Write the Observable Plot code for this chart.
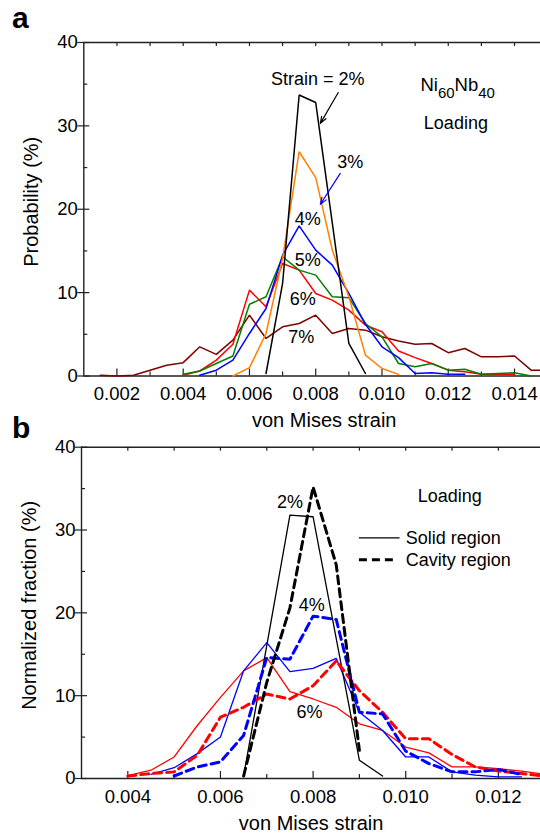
<!DOCTYPE html>
<html><head><meta charset="utf-8">
<script src="https://cdn.jsdelivr.net/npm/d3@7"></script>
<script src="https://cdn.jsdelivr.net/npm/@observablehq/plot@0.6"></script>
<style>
body{margin:0;background:#fff;}
#wrap{position:relative;width:540px;height:833px;overflow:hidden;font-family:"Liberation Sans",Arial,sans-serif;background:#fff;}
.panel{position:absolute;left:0;}
.tag{position:absolute;font-weight:bold;font-size:30px;line-height:30px;color:#000;}
</style></head><body>
<div id="wrap">
  <div id="pa" class="panel" style="top:0px"></div>
  <div id="pb" class="panel" style="top:415px"></div>
  <div class="tag" style="left:12px;top:3px">a</div>
  <div class="tag" style="left:12px;top:413px">b</div>
</div>
<script>
// ---------- Panel a data (von Mises strain vs probability %) ----------
const gridA = [0.0015, 0.002, 0.0025, 0.003, 0.0035, 0.004, 0.0045, 0.005, 0.0055, 0.006,
               0.0065, 0.007, 0.0075, 0.008, 0.0085, 0.009, 0.0095, 0.010, 0.0105, 0.011,
               0.0115, 0.012, 0.0125, 0.013, 0.0135, 0.014, 0.0145, 0.015];
const strainsA = ["2%", "3%", "4%", "5%", "6%", "7%"];
const colorsA = ["#000000", "#ff8000", "#0000ff", "#008000", "#ff0000", "#800000"];
const prob2 = [null,null,null,null,null,null,null,null,null,null,
               0.3, 11.1, 33.7, 32.8, null, 3.9, 0.3, null,null,null,
               null,null,null,null,null,null,null,null];
const prob3 = [null,null,null,null,null,null,null,null,
               0, 1.0, 5.1, 14.1, 26.9, 23.8, 15.1, 9.5, 2.5, 0.9, 0.2,
               null,null,null,null,null,null,null,null,null];
const prob4 = [null,null,null,null,null,null,
               0.1, 0.7, 1.9, 5.1, 8.1, 14.5, 18.0, 15.1, 13.3, 9.9, 6.2, 3.5, 2.2, 0.3, 0.4, 0.2, 0.2,
               null,null,null,null,null];
const prob5 = [null,null,null,null,null,
               0.2, 0.6, 1.5, 2.4, 8.6, 9.5, 14.3, 12.7, 12.1, 9.5, 9.4, 6.3, 4.7, 1.5, 1.1, 1.5, 0.7, 0.8, 0.2, 0.3, 0.4, 0,
               null];
const prob6 = [null,null,null,null,null,
               0.1, 0.6, 1.9, 3.8, 10.3, 8.3, 13.5, 12.7, 9.9, 9.1, 7.9, 6.1, 5.3, 3.0, 2.2, 1.5, 0.7, 0.5, 0.2, 0.2, 0.2,
               null,null];
const prob7 = [0.1, 0, 0.1, 0.7, 1.3, 1.6, 3.5, 2.6, 4.3, 7.3, 4.5, 5.9, 6.3, 7.3, 5.1, 5.7, 5.5, 4.7,
               4.2, 3.8, 3.9, 2.8, 3.3, 2.3, 2.3, 2.4, 0.7, 0.7];
const xTicksA = [0.002, 0.004, 0.006, 0.008, 0.010, 0.012, 0.014];
const xMinorA = [0.001, 0.003, 0.005, 0.007, 0.009, 0.011, 0.013];
const yTicks = [0, 10, 20, 30, 40];
const yMinor = [5, 15, 25, 35];

// annotations panel a
const annotA = [
  {x: 0.00806, y: 35.6, t: "Strain = 2%"},
  {x: 0.01223, y: 30.3, t: "Loading"},
  {x: 0.00904, y: 25.6, t: "3%"},
  {x: 0.00776, y: 18.8, t: "4%"},
  {x: 0.00776, y: 13.9, t: "5%"},
  {x: 0.00761, y: 9.2, t: "6%"},
  {x: 0.00756, y: 4.6, t: "7%"}
];
const arrowsA = [
  {x1: 0.00868, y1: 34.0, x2: 0.00814, y2: 30.3, c: "#000000"},
  {x1: 0.00874, y1: 24.3, x2: 0.00814, y2: 20.6, c: "#0000ff"}
];

// ---------- Panel b data (normalized fraction %) ----------
const gridB = [0.004, 0.0045, 0.005, 0.0055, 0.006, 0.0065, 0.007, 0.0075, 0.008, 0.0085,
               0.009, 0.0095, 0.010, 0.0105, 0.011, 0.0115, 0.012, 0.0125, 0.013];
const solid2  = [null,null,null,null,null, 0.3, null, 31.8, 31.6, null, 2.2, 0.3, null,null,null,null,null,null,null];
const cavity2 = [null,null,null,null,null, 0.3, 11.6, 20.6, 35.2, 25.8, 3.4, null,null,null,null,null,null,null,null];
const solid4  = [null, 0.5, 1.3, 3.0, 5.0, 13.0, 16.4, 12.9, 13.3, 14.5, 8.0, 5.8, 2.6, 2.6, 0.8, 0.4, 0.2, 0.2, null];
const cavity4 = [null, null, 0.3, 1.4, 2.0, 5.2, 14.6, 14.4, 19.6, 19.2, 8.0, 7.8, 3.3, 1.8, 0.8, 0.8, 1.1, 0.5, null];
const solid6  = [0.36, 1.0, 2.6, 6.4, 9.8, 13.0, 14.6, 10.5, 9.6, 8.6, 6.6, 5.8, 3.8, 3.1, 1.4, 1.4, 1.2, 0.9, 0.5];
const cavity6 = [0.3, 0.6, 0.8, 2.8, 7.4, 8.6, 10.2, 9.6, 11.2, 14.2, 10.6, 8.0, 4.8, 4.8, 2.9, 1.4, 0.9, 0.6, 0.3];
const xTicksB = [0.004, 0.006, 0.008, 0.010, 0.012];
const xMinorB = [0.003, 0.005, 0.007, 0.009, 0.011];
const regions = ["Solid region", "Cavity region"];
const annotB = [
  {x: 0.00750, y: 33.4, t: "2%"},
  {x: 0.00797, y: 20.9, t: "4%"},
  {x: 0.00792, y: 8.0, t: "6%"},
  {x: 0.01095, y: 34.1, t: "Loading"}
];

// ---------- helpers ----------
const FONT = "Liberation Sans, Arial, sans-serif";
const rows = (grid, vals, key) => vals.map((v, j) => ({x: grid[j], y: v, s: key})).filter(d => d.y != null);

function frameMarks(xDom, majors, minors, pxX, pxY) {
  const L = 7 / pxY, l = 4 / pxY, T = 4 / pxY;
  const yl = 6 / pxX, ys = 4 / pxX;
  const x0 = xDom[0];
  return [
    Plot.ruleY([0, 40], {x1: xDom[0], x2: xDom[1], stroke: "#222", strokeWidth: 1.4}),
    Plot.ruleX([x0], {y1: 0, y2: 40, stroke: "#222", strokeWidth: 1.4}),
    Plot.ruleX(majors, {y1: 0, y2: L, stroke: "#222", strokeWidth: 1.2}),
    Plot.ruleX(minors.filter(v => v > x0), {y1: 0, y2: l, stroke: "#222", strokeWidth: 1.2}),
    Plot.ruleX(majors.concat(minors).filter(v => v > x0), {y1: 40, y2: 40 - T, stroke: "#222", strokeWidth: 1.2}),
    Plot.ruleY(yTicks, {x1: x0 - yl, x2: x0 + yl, stroke: "#222", strokeWidth: 1.2}),
    Plot.ruleY(yMinor, {x1: x0, x2: x0 + ys, stroke: "#222", strokeWidth: 1.2}),
    Plot.axisX(majors, {tickSize: 0, tickPadding: 11, tickFormat: d3.format(".3f"), label: null, fontSize: 18.5}),
    Plot.axisY(yTicks, {tickSize: 0, tickPadding: 6, label: null, fontSize: 18.5})
  ];
}

// ---------- Panel a ----------
const xDomA = [0.001, 0.014784];
const pxXA = 456.7 / (xDomA[1] - xDomA[0]);
const pxYA = 333.5 / 40;
const rowsA = [prob7, prob6, prob5, prob4, prob3, prob2]
  .flatMap((vals, i) => rows(gridA, vals, strainsA[5 - i]));

const plotA = Plot.plot({
  width: 540, height: 415,
  marginTop: 42, marginBottom: 39.5, marginLeft: 83.3, marginRight: 0,
  x: {domain: xDomA}, y: {domain: [0, 40]},
  color: {domain: strainsA, range: colorsA},
  style: {fontFamily: FONT, fontSize: "18.5px", color: "#000", background: "transparent", overflow: "visible"},
  marks: [
    ...frameMarks(xDomA, xTicksA, xMinorA, pxXA, pxYA),
    Plot.line(rowsA, {x: "x", y: "y", z: "s", stroke: "s", strokeWidth: 1.5, strokeLinejoin: "miter"}),
    Plot.arrow(arrowsA, {x1: "x1", y1: "y1", x2: "x2", y2: "y2", stroke: "c", strokeWidth: 1.2, headLength: 9, headAngle: 40}),
    Plot.text(annotA, {x: "x", y: "y", text: "t", fontSize: 18, textAnchor: "middle", lineAnchor: "middle", fill: "#000"}),
    Plot.text(["von Mises strain"], {x: 0.008257, y: 0, text: d => d, dy: 45, fontSize: 20, lineAnchor: "middle", fill: "#000"}),
    Plot.text(["Probability (%)"], {x: xDomA[0], y: 20.9, text: d => d, dx: -52, rotate: -90, fontSize: 20, lineAnchor: "middle", fill: "#000"})
  ]
});
document.getElementById("pa").appendChild(plotA);
{
  const sx = plotA.scale("x"), sy = plotA.scale("y");
  const t = d3.select(plotA).append("text")
    .attr("x", sx.apply(0.011175)).attr("y", sy.apply(34.07))
    .attr("text-anchor", "start")
    .attr("font-family", FONT).attr("font-size", 18.5).attr("fill", "#000");
  t.append("tspan").text("Ni");
  t.append("tspan").attr("font-size", 15).attr("dy", 7).text("60");
  t.append("tspan").attr("dy", -7).text("Nb");
  t.append("tspan").attr("font-size", 15).attr("dy", 7).text("40");
}

// ---------- Panel b ----------
const xDomB = [0.003, 0.01291];
const pxXB = 459 / (xDomB[1] - xDomB[0]);
const pxYB = 331.3 / 40;
const solidRows = [...rows(gridB, solid6, "6%"), ...rows(gridB, solid4, "4%"), ...rows(gridB, solid2, "2%")];
const cavityRows = [...rows(gridB, cavity6, "6%"), ...rows(gridB, cavity4, "4%"), ...rows(gridB, cavity2, "2%")];
const legendB = [
  {r: regions[0], y: 29.06},
  {r: regions[1], y: 26.4}
];

const plotB = Plot.plot({
  width: 540, height: 418,
  marginTop: 31.7, marginBottom: 55, marginLeft: 81, marginRight: 0,
  x: {domain: xDomB}, y: {domain: [0, 40]},
  color: {domain: ["2%", "4%", "6%"], range: ["#000000", "#0000ff", "#ff0000"]},
  style: {fontFamily: FONT, fontSize: "18.5px", color: "#000", background: "transparent", overflow: "visible"},
  marks: [
    ...frameMarks(xDomB, xTicksB, xMinorB, pxXB, pxYB),
    Plot.line(solidRows, {x: "x", y: "y", z: "s", stroke: "s", strokeWidth: 1.3}),
    Plot.line(cavityRows, {x: "x", y: "y", z: "s", stroke: "s", strokeWidth: 3, strokeDasharray: "8,5"}),
    Plot.ruleY(legendB.slice(0, 1), {y: "y", x1: 0.0090, x2: 0.009878, stroke: "#000", strokeWidth: 1.3}),
    Plot.ruleY(legendB.slice(1), {y: "y", x1: 0.0090, x2: 0.009733, stroke: "#000", strokeWidth: 3, strokeDasharray: "8,5"}),
    Plot.text(legendB, {x: 0.010001, y: "y", text: "r", fontSize: 18, textAnchor: "start", lineAnchor: "middle", fill: "#000"}),
    Plot.text(annotB, {x: "x", y: "y", text: "t", fontSize: 18, textAnchor: "middle", lineAnchor: "middle", fill: "#000"}),
    Plot.text(["von Mises strain"], {x: 0.007957, y: 0, text: d => d, dy: 45, fontSize: 20, lineAnchor: "middle", fill: "#000"}),
    Plot.text(["Normalized fraction (%)"], {x: xDomB[0], y: 20.9, text: d => d, dx: -52, rotate: -90, fontSize: 20, lineAnchor: "middle", fill: "#000"})
  ]
});
document.getElementById("pb").appendChild(plotB);
</script>
</body></html>
